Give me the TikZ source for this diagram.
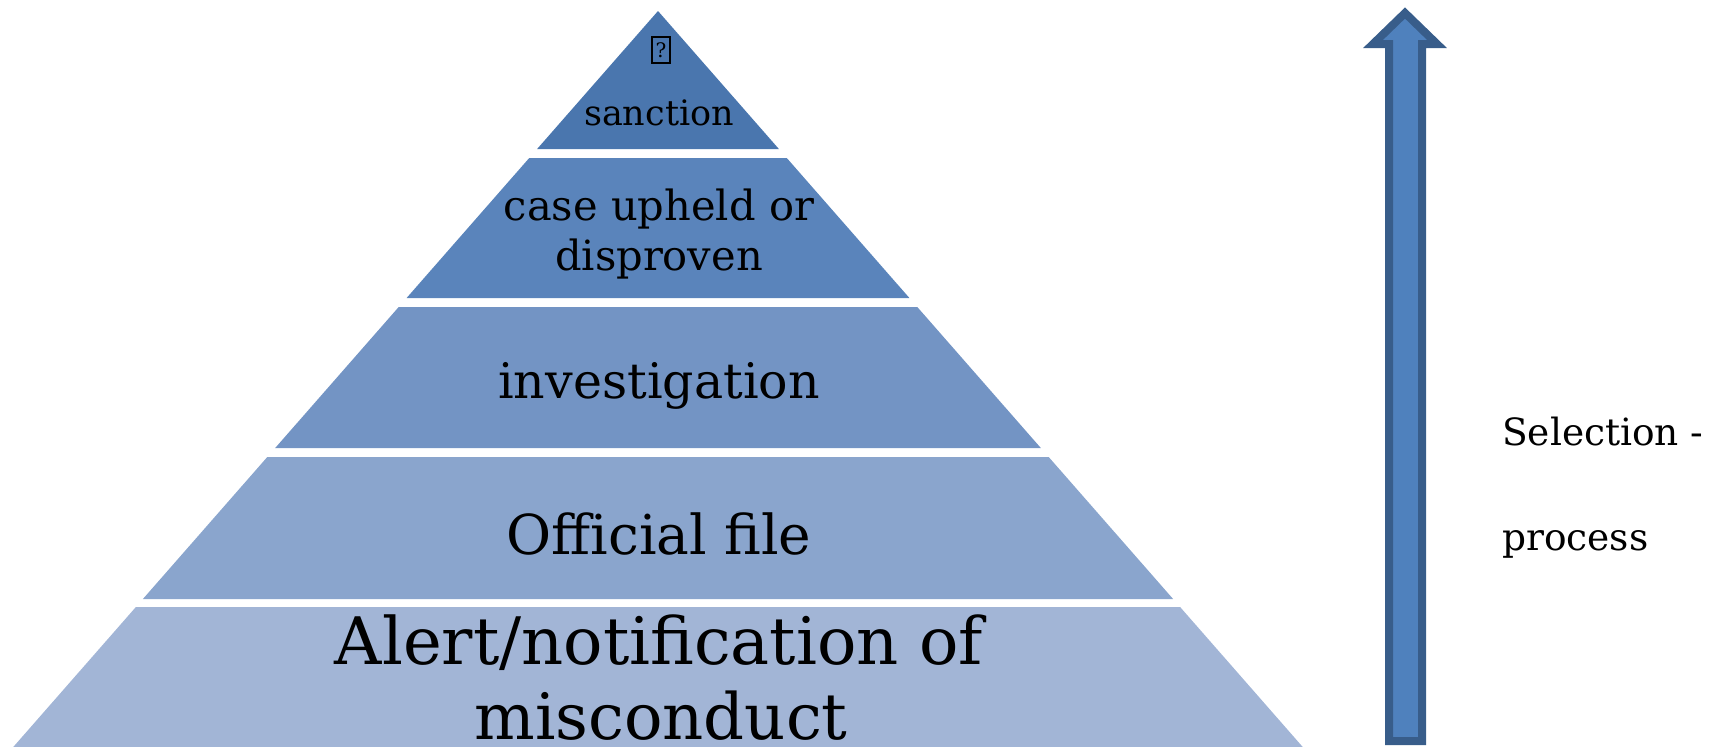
\documentclass[tikz,border=0pt]{standalone}
\usepackage{fontspec}
\setmainfont{DejaVu Serif}

\definecolor{tierA}{HTML}{4A76AE}
\definecolor{tierB}{HTML}{5A84BB}
\definecolor{tierC}{HTML}{7394C4}
\definecolor{tierD}{HTML}{8AA5CD}
\definecolor{tierE}{HTML}{A2B5D6}
\definecolor{arrowfill}{HTML}{4F81BD}
\definecolor{arrowedge}{HTML}{385D8A}

\newcommand{\fsz}[1]{\fontsize{#1}{#1}\selectfont}

\tikzset{
  tierlabel/.style={anchor=base, inner sep=0pt, text=black},
  sidelabel/.style={anchor=base west, inner sep=0pt, text=black, font=\fsz{37.5}},
}

\begin{document}
\begin{tikzpicture}[x=1pt,y=-1pt]
  \useasboundingbox (0,0) rectangle (1719,747);
  % pyramid tiers
  \foreach \ya/\yb/\col in {11/149/tierA,158/298/tierB,307/448/tierC,457/599/tierD,607/747/tierE}
    \fill[\col] ({658-0.876*(\ya-11)},\ya) -- ({658+0.876*(\ya-11)},\ya)
      -- ({658+0.876*(\yb-11)},\yb) -- ({658-0.876*(\yb-11)},\yb) -- cycle;
  % tier labels
  \node[draw, line width=1.4pt, minimum width=18pt, minimum height=26pt, inner sep=0pt,
    font=\fsz{20}] (missing) at (661,50) {?};
  \node[tierlabel, font=\fsz{35}] (sanction) at (659,125) {sanction};
  \node[tierlabel, font=\fsz{41.6}] (upheld) at (659,220) {case upheld or};
  \node[tierlabel, font=\fsz{41.6}] (disproven) at (659,270) {disproven};
  \node[tierlabel, font=\fsz{49}] (investigation) at (659,398) {investigation};
  \node[tierlabel, font=\fsz{55}] (official) at (659,554) {Official file};
  \node[tierlabel, font=\fsz{65.5}] (alert) at (659,664) {Alert/notification of};
  \node[tierlabel, font=\fsz{64}] (misconduct) at (661,739) {misconduct};
  % selection arrow
  \draw[fill=arrowfill, draw=arrowedge, line width=8pt, miter limit=10]
    (1389,741) -- (1389,44) -- (1373,44) -- (1405,13) -- (1437,44) -- (1422,44)
    -- (1422,741) -- cycle;
  \node[sidelabel] (selection) at (1502,445) {Selection -};
  \node[sidelabel] (process) at (1502,550) {process};
\end{tikzpicture}
\end{document}
